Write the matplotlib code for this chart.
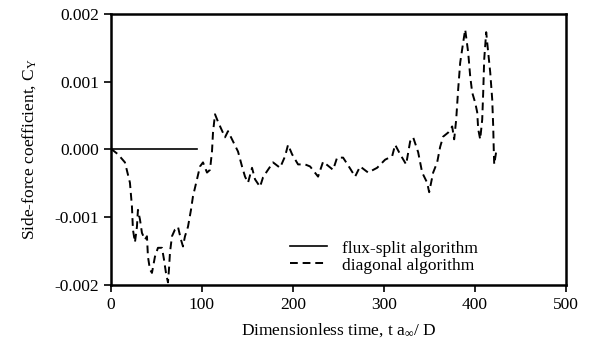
import numpy as np
import matplotlib
matplotlib.use("Agg")
import matplotlib.pyplot as plt

plt.rcParams['font.family'] = ['Liberation Serif', 'DejaVu Serif']
plt.rcParams['mathtext.fontset'] = 'custom'
plt.rcParams['mathtext.rm'] = 'Liberation Serif'
plt.rcParams['mathtext.it'] = 'Liberation Serif:italic'

# flux-split algorithm (flat zero)
t_flux = [0, 95]
cy_flux = [0.0, 0.0]

# diagonal algorithm, values in units of 1e-3
t_diag = [0, 1.1, 7.7, 15.4, 20.9, 23.1, 24.2, 26.4, 28.6, 29.7, 31.9, 34.1, 37.4,
          39.6, 40.7, 42.9, 45.1, 48.4, 51.7, 56.1, 58.3, 60.5, 62.7, 63.8, 64.9,
          67.1, 70.4, 73.7, 77.0, 79.2, 81.4, 84.7, 88.0, 90.2, 94.6, 97.9, 101.2,
          105.6, 108.9, 111.1, 112.2, 114.4, 117.7, 125.4, 128.7, 134.2, 139.7,
          144.1, 147.4, 150.7, 155.1, 158.4, 163.9, 167.2, 171.6, 178.2, 185.9,
          191.4, 194.7, 199.1, 205.7, 213.4, 218.9, 227.7, 233.2, 244.2, 248.6,
          255.2, 262.9, 268.4, 273.9, 282.7, 292.6, 301.4, 309.1, 312.4, 317.9,
          324.5, 328.9, 332.2, 337.7, 342.1, 347.6, 349.8, 354.2, 358.6, 361.9,
          365.2, 370.7, 375.1, 377.3, 379.5, 381.7, 383.9, 387.2, 389.4, 392.7,
          394.9, 397.1, 400.4, 402.6, 403.7, 405.9, 408.1, 409.2, 410.3, 412.5,
          414.7, 416.9, 419.1, 420.2, 420.8, 421.3, 423.5]
cy_diag = [0, 0, -0.07, -0.19, -0.49, -0.84, -1.18, -1.37, -1.14, -0.89, -1.03,
           -1.23, -1.33, -1.28, -1.58, -1.77, -1.82, -1.58, -1.45, -1.45, -1.62,
           -1.82, -1.96, -1.77, -1.52, -1.28, -1.18, -1.14, -1.33, -1.43, -1.28,
           -1.14, -0.89, -0.69, -0.44, -0.25, -0.19, -0.34, -0.30, -0.03, 0.25,
           0.52, 0.41, 0.18, 0.27, 0.12, -0.03, -0.25, -0.40, -0.49, -0.27, -0.44,
           -0.55, -0.41, -0.32, -0.19, -0.27, -0.10, 0.07, -0.07, -0.22, -0.22,
           -0.25, -0.40, -0.18, -0.30, -0.12, -0.12, -0.28, -0.40, -0.25, -0.34,
           -0.27, -0.15, -0.10, 0.07, -0.07, -0.22, 0.12, 0.18, -0.04, -0.34,
           -0.49, -0.63, -0.34, -0.19, 0.04, 0.19, 0.25, 0.34, 0.15, 0.44, 0.89,
           1.28, 1.58, 1.77, 1.43, 1.08, 0.84, 0.69, 0.55, 0.30, 0.15, 0.44, 0.84,
           1.33, 1.73, 1.43, 1.14, 0.74, 0.34, 0.0, -0.22, -0.03]
cy_diag = np.array(cy_diag) * 1e-3

fig = plt.figure(figsize=(5.9, 3.39), dpi=100)
ax = fig.add_axes([0.188, 0.159, 0.771, 0.8])

ax.plot(t_flux, cy_flux, color='k', lw=1.2, label='flux-split algorithm')
ax.plot(t_diag, cy_diag, color='k', lw=1.4, linestyle=(0, (4, 2.5)),
        label='diagonal algorithm')

ax.set_xlim(0, 500)
ax.set_ylim(-0.002, 0.002)
ax.set_xticks([0, 100, 200, 300, 400, 500])
ax.set_yticks([-0.002, -0.001, 0.0, 0.001, 0.002])
ax.set_yticklabels(['-0.002', '-0.001', '0.000', '0.001', '0.002'])
ax.tick_params(direction='out', length=5, width=1.2, labelsize=12.5, colors='k')
for s in ax.spines.values():
    s.set_linewidth(1.8)

ax.set_xlabel(r'Dimensionless time, t a$_{\infty}$/ D', fontsize=12.5, labelpad=6)
ax.set_ylabel(r'Side-force coefficient, C$_{\mathrm{Y}}$', fontsize=12.5, labelpad=12)

ax.legend(loc='lower left', bbox_to_anchor=(0.36, -0.015), frameon=False,
          fontsize=12.5, handlelength=2.1, labelspacing=0.05, handletextpad=0.9)

plt.savefig('out.png', dpi=100)
